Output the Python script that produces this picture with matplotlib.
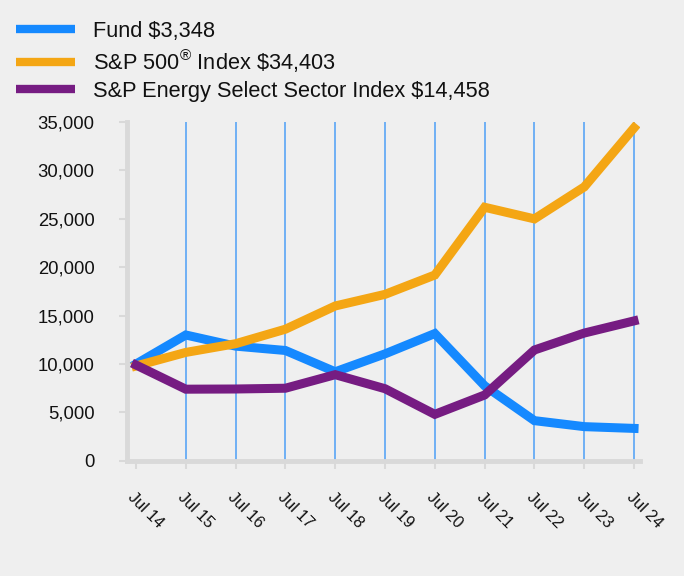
import matplotlib
matplotlib.use("Agg")
import matplotlib.pyplot as plt
import matplotlib.transforms as mtransforms
import numpy as np

plt.rcParams['font.family'] = ['Liberation Sans', 'DejaVu Sans']
plt.rcParams['mathtext.fontset'] = 'custom'
plt.rcParams['mathtext.rm'] = 'Liberation Sans'
plt.rcParams['mathtext.it'] = 'Liberation Sans'

years = ["Jul 14", "Jul 15", "Jul 16", "Jul 17", "Jul 18", "Jul 19",
         "Jul 20", "Jul 21", "Jul 22", "Jul 23", "Jul 24"]
fund = [10000, 13000, 11850, 11400, 9200, 11050, 13150, 7750, 4150, 3530, 3348]
sp500 = [9800, 11200, 12100, 13600, 16000, 17200, 19200, 26200, 25000, 28300, 34403]
energy = [9900, 7400, 7420, 7500, 8900, 7450, 4800, 6800, 11450, 13200, 14458]

labels = ["Fund \\$3,348",
          "S&P 500$^{®}$ Index \\$34,403",
          "S&P Energy Select Sector Index \\$14,458"]
colors = ["#1589ff", "#f4a614", "#761c82"]

bg = "#efefef"
fig = plt.figure(figsize=(6.84, 5.76), dpi=100, facecolor=bg)
ax = fig.add_axes([0.1857, 0.2, 0.75, 0.588])
ax.set_facecolor(bg)

x = np.arange(len(years))
for xi in x[1:]:
    ax.axvline(xi, color="#6fb0f5", lw=1.4, zorder=1)

handles = []
for series, c, lab in zip([fund, sp500, energy], colors, labels):
    h, = ax.plot(x, series, color=c, lw=6.5, solid_joinstyle='miter', zorder=3, label=lab)
    handles.append(h)

ax.set_xlim(-0.18, 10.12)
ax.set_ylim(0, 35000)
ax.set_yticks(np.arange(0, 35001, 5000))
ax.set_yticklabels([f"{v:,}" for v in range(0, 35001, 5000)], fontsize=13.3)
ax.set_xticks(x)
ax.set_xticklabels(years, fontsize=11.7, rotation=-45, ha='left', va='top', rotation_mode='anchor')
offset = mtransforms.ScaledTranslation(8 / 100, 0, fig.dpi_scale_trans)
for lbl in ax.get_xticklabels():
    lbl.set_transform(lbl.get_transform() + offset)

for s in ["top", "right"]:
    ax.spines[s].set_visible(False)
for s in ["left", "bottom"]:
    ax.spines[s].set_color("#d9d9d9")
    ax.spines[s].set_linewidth(3.5)
ax.tick_params(axis='y', colors="#d9d9d9", labelcolor="#111111", length=5.5, width=1.5, pad=18)
ax.tick_params(axis='x', colors="#d9d9d9", labelcolor="#111111", length=5.5, width=1.5, pad=15)

leg = fig.legend(handles=handles, loc='upper left', bbox_to_anchor=(-0.006, 0.998),
                 frameon=False, fontsize=15.7, handlelength=2.75, handletextpad=0.8,
                 labelspacing=0.27)
for line in leg.get_lines():
    line.set_linewidth(6)
    line.set_solid_capstyle('butt')
for t in leg.get_texts():
    t.set_color("#111111")

fig.savefig("out.png", dpi=100, facecolor=bg)
